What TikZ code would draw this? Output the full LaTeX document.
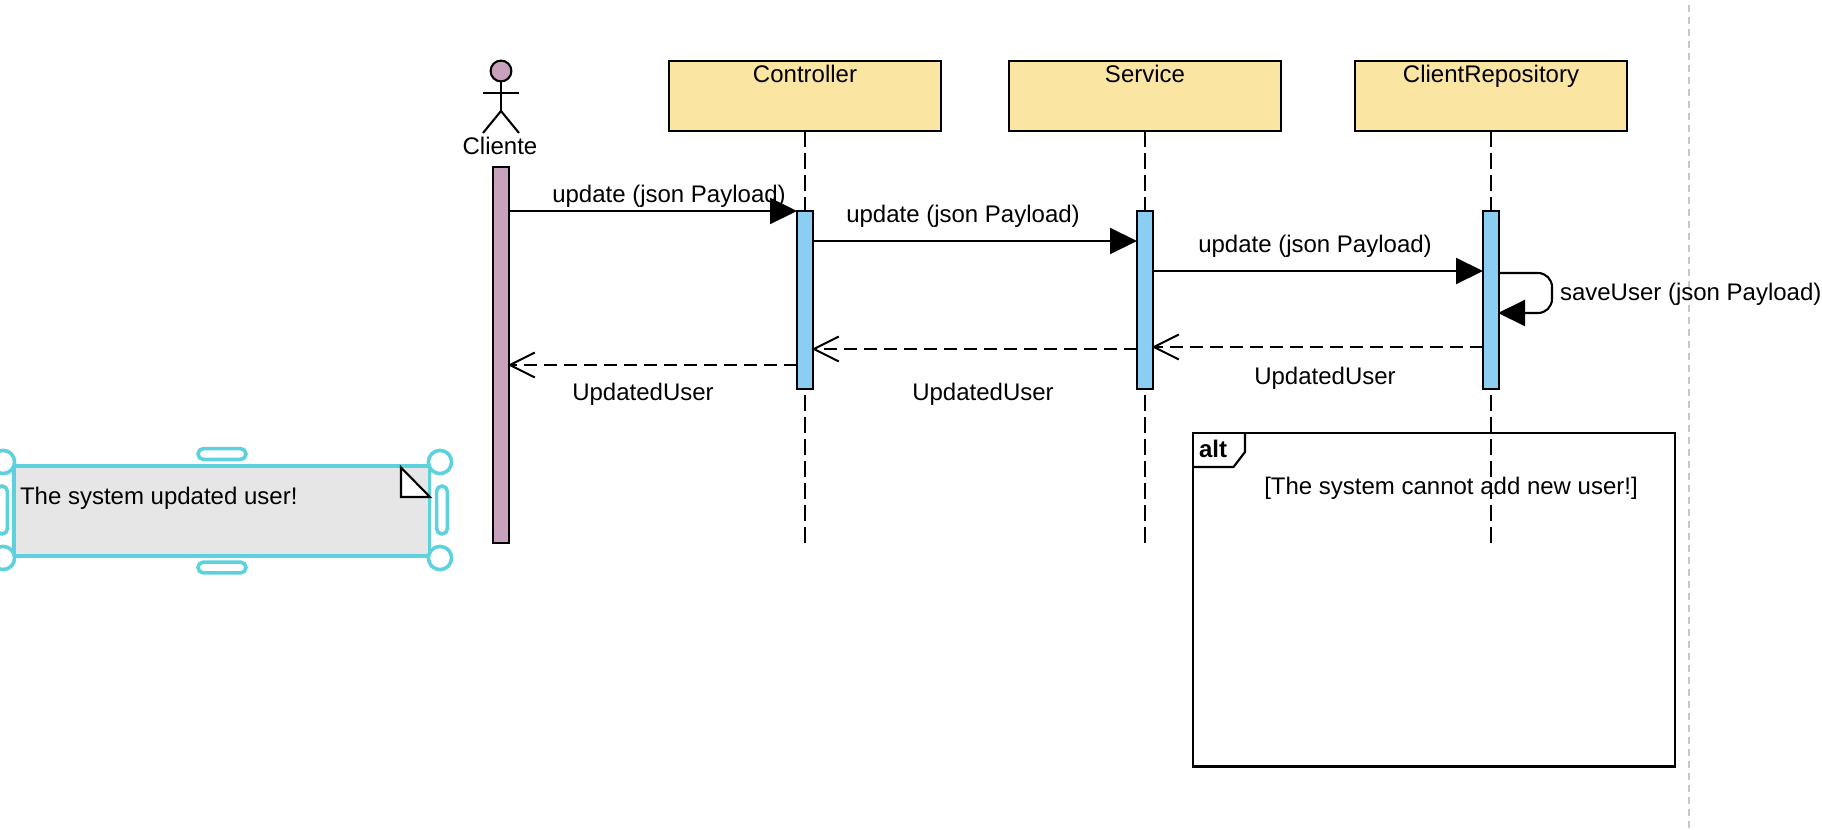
\documentclass[tikz,border=0pt]{standalone}
\usepackage{fontspec}
\setmainfont{Liberation Sans}
\usetikzlibrary{arrows.meta}
\definecolor{actorc}{HTML}{C8A2BD}
\definecolor{headc}{HTML}{FAE5A3}
\definecolor{actc}{HTML}{8CCDF3}
\definecolor{selc}{HTML}{5ED1DE}
\definecolor{notec}{HTML}{E6E6E6}
\definecolor{greyline}{HTML}{C8C8C8}
\tikzset{
  base/.style={line width=1.05pt,draw=black,outer sep=0pt,inner sep=0pt},
  txt/.style={font=\fontsize{12}{14}\selectfont,inner sep=0pt,outer sep=0pt,text=black},
  headbox/.style={base,fill=headc,minimum width=136pt,minimum height=35pt,align=center,
    font=\fontsize{12}{14}\selectfont,text height=10.5pt,text depth=24.5pt},
  actbox/.style={base,fill=actc,minimum width=8pt,minimum height=89pt},
  lifeline/.style={line width=1.05pt,dash pattern=on 8pt off 3pt},
  msg/.style={line width=1.05pt,-{Triangle[length=13.5pt,width=13pt,inset=0pt]}},
  ret/.style={line width=1.05pt,dash pattern=on 6.5pt off 3.5pt,shorten >=-0.7pt,-{Straight Barb[length=12.5pt,width=12.5pt,line width=1pt]}},
  pill/.style={draw=selc,line width=1.8pt,fill=white,rounded corners=2.7pt,outer sep=0pt,inner sep=0pt},
  ring/.style={draw=selc,line width=1.8pt,fill=white,circle,minimum size=11.6pt,outer sep=0pt,inner sep=0pt},
}
\begin{document}
\begin{tikzpicture}[x=0.5pt,y=-0.5pt]
\useasboundingbox (0,0) rectangle (1822,830);
% page guide
\coordinate (gt) at (1689,-7);
\coordinate (gb) at (1689,830);
\draw[greyline,line width=1pt,dash pattern=on 3.25pt off 2.75pt] (gt) -- (gb);
% heads
\node[headbox] (ctl) at (805,96) {Controller};
\node[headbox] (svc) at (1145,96) {Service};
\node[headbox] (rep) at (1491,96) {ClientRepository};
% lifeline ends
\coordinate (ctlend) at (805,543);
\coordinate (svcend) at (1145,543);
\coordinate (repend) at (1491,543);
\draw[lifeline] (ctl.south) -- (ctlend);
\draw[lifeline] (svc.south) -- (svcend);
\draw[lifeline] (rep.south) -- (repend);
% actor
\node[base,fill=actorc,circle,minimum size=10.4pt] (head) at (501,71) {};
\coordinate (hip) at (501,111);
\coordinate (armL) at (483,93);
\coordinate (armR) at (519,93);
\coordinate (legL) at (483,133);
\coordinate (legR) at (519,133);
\draw[line width=1.05pt] (head.south) -- (hip);
\draw[line width=1.05pt] (armL) -- (armR);
\draw[line width=1.05pt] (legL) -- (hip) -- (legR);
\node[txt] (clilab) at (500,146) {Cliente};
% activations
\node[base,fill=actorc,minimum width=8pt,minimum height=188pt] (acli) at (501,355) {};
\node[actbox] (actl) at (805,300) {};
\node[actbox] (asvc) at (1145,300) {};
\node[actbox] (arep) at (1491,300) {};
% message rows
\coordinate (m1) at (0,211);
\coordinate (m2) at (0,241);
\coordinate (m3) at (0,271);
\coordinate (r1) at (0,347);
\coordinate (r2) at (0,349);
\coordinate (r3) at (0,365);
\draw[msg] (acli.east |- m1) -- (actl.west |- m1);
\draw[msg] (actl.east |- m2) -- (asvc.west |- m2);
\draw[msg] (asvc.east |- m3) -- (arep.west |- m3);
\coordinate (l1) at (1552,273);
\coordinate (l2) at (1552,313);
\coordinate (l4) at (1525,313);
\coordinate (l5) at (1540,313);
\coordinate (l0) at (0,273);
\coordinate (l3) at (0,313);
\draw[line width=1.05pt,rounded corners=7pt] (arep.east |- l0) -- (l1) -- (l2) -- (l4);
\draw[msg,shorten >=-0.5pt] (l5) -- (arep.east |- l3);
\draw[ret] (arep.west |- r1) -- (asvc.east |- r1);
\draw[ret] (asvc.west |- r2) -- (actl.east |- r2);
\draw[ret] (actl.west |- r3) -- (acli.east |- r3);
% labels
\node[txt] (t1) at (669,196) {update (json Payload)};
\node[txt] (t2) at (963,216) {update (json Payload)};
\node[txt] (t3) at (1315,246) {update (json Payload)};
\node[txt,anchor=west] (t4) at (1560,294) {saveUser (json Payload)};
\node[txt] (t5) at (643,394) {UpdatedUser};
\node[txt] (t6) at (983,394) {UpdatedUser};
\node[txt] (t7) at (1325,378) {UpdatedUser};
% alt frame
\node[base,minimum width=241pt,minimum height=166.75pt,anchor=north west] (alt) at (1193,433) {};
\draw[line width=1.05pt] (1245,433) -- (1245,452) -- (1233.5,467) -- (1193,467);
\node[txt,font=\fontsize{12}{14}\selectfont\bfseries] (altl) at (1213,449) {alt};
\node[txt] (altc) at (1451,488) {[The system cannot add new user!]};
% selected note
\node[draw=selc,line width=1.8pt,fill=notec,minimum width=207.7pt,minimum height=45pt,outer sep=0pt,inner sep=0pt] (note) at (221.7,510.7) {};
\draw[line width=1.05pt,fill=white] (401,467.5) -- (401,497) -- (430,497) -- cycle;
\node[txt,anchor=west] (notet) at (20,498) {The system updated user!};
\node[pill,minimum width=24pt,minimum height=5.4pt] (ht) at (222,454) {};
\node[pill,minimum width=24pt,minimum height=5.4pt] (hb) at (222,567.5) {};
\node[pill,minimum width=5.4pt,minimum height=24pt] (hr) at (442,510) {};
\node[pill,minimum width=5.4pt,minimum height=24pt] (hl) at (2,510) {};
\node[ring] (c1) at (3,462) {};
\node[ring] (c2) at (3,558) {};
\node[ring] (c3) at (440,462) {};
\node[ring] (c4) at (440,558) {};
\end{tikzpicture}
\end{document}
